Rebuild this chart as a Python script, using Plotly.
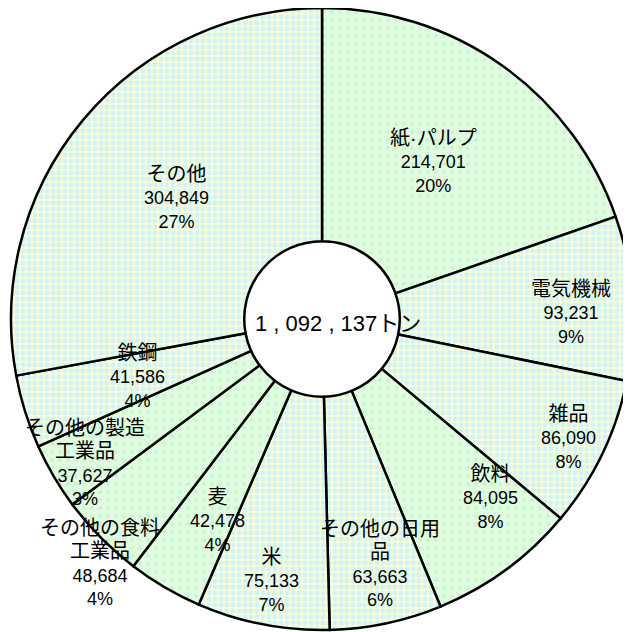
import math
import plotly.graph_objects as go

# ---- data ----
categories = ["紙·パルプ", "電気機械", "雑品", "飲料", "その他の日用品", "米", "麦",
              "その他の食料工業品", "その他の製造工業品", "鉄鋼", "その他"]
values = [214701, 93231, 86090, 84095, 63663, 75133, 42478, 48684, 37627, 41586, 304849]
pct_labels = ["20%", "9%", "8%", "8%", "6%", "7%", "4%", "4%", "3%", "4%", "27%"]
total_label = "1 , 092 , 137トン"

# ---- styling ----
fill_style = ["green", "check", "check", "green", "check", "check", "green",
              "green", "green", "check", "check"]
label_radius = [0.62, 0.80, 0.88, 0.79, 0.81, 0.855, 0.73, 1.06, 0.89, 0.62, 0.61]
label_angle_offset = [0, 2.4, 0, -7.0, -1.4, 0, -3, -3, -0.9, 0, 0]

W, H = 631, 632
OFF = 8  # default page body margin
ML, MR, MT, MB = 3, 6, 0, 10
pw, ph = W - ML - MR, H - MT - MB
R = min(pw, ph) / 2
cx, cy = OFF + ML + pw / 2, OFF + MT + ph / 2

FONT = "Liberation Sans, Arial, Noto Sans CJK JP, sans-serif"

bg = []
fg = []
sz = []
sol = []
for s in fill_style:
    if s == "green":
        bg.append("#e0fce0"); fg.append("#cff2cf"); sz.append(8); sol.append(0.2)
    else:
        bg.append("#fbfdd6"); fg.append("#cff3fa"); sz.append(6); sol.append(0.5)

fig = go.Figure()
fig.add_trace(go.Pie(
    labels=categories,
    values=values,
    sort=False,
    direction="clockwise",
    rotation=0,
    hole=0.25,
    textinfo="none",
    showlegend=False,
    marker=dict(
        colors=bg,
        line=dict(color="black", width=2.5),
        pattern=dict(shape=["."] * len(values), bgcolor=bg, fgcolor=fg,
                     size=sz, solidity=sol),
    ),
))

def wrap(name, n=6):
    parts = [name[i:i + n] for i in range(0, len(name), n)]
    return "<br>".join(f"<span style='font-size:20px'>{p}</span>" for p in parts)

tot = sum(values)
cum = 0
annotations = []
for name, v, p, rf, da in zip(categories, values, pct_labels, label_radius, label_angle_offset):
    mid = (cum + v / 2) / tot * 2 * math.pi + math.radians(da)
    cum += v
    px = cx + R * rf * math.sin(mid)
    py = cy - R * rf * math.cos(mid)
    annotations.append(dict(
        x=(px - OFF - ML) / pw, y=1 - (py - OFF - MT) / ph, xref="paper", yref="paper",
        text=f"{wrap(name)}<br>{v:,}<br>{p}", showarrow=False,
        font=dict(family=FONT, size=18, color="black"),
        xanchor="center", yanchor="middle", align="center",
    ))

annotations.append(dict(
    x=0.5, y=0.5, xref="paper", yref="paper", xshift=16, yshift=-4,
    text=total_label, showarrow=False,
    font=dict(family=FONT, size=22, color="black"),
    xanchor="center", yanchor="middle",
))

fig.update_layout(
    width=W, height=H,
    margin=dict(l=ML, r=MR, t=MT, b=MB),
    paper_bgcolor="white",
    plot_bgcolor="white",
    annotations=annotations,
)

fig.write_html("out.html")
